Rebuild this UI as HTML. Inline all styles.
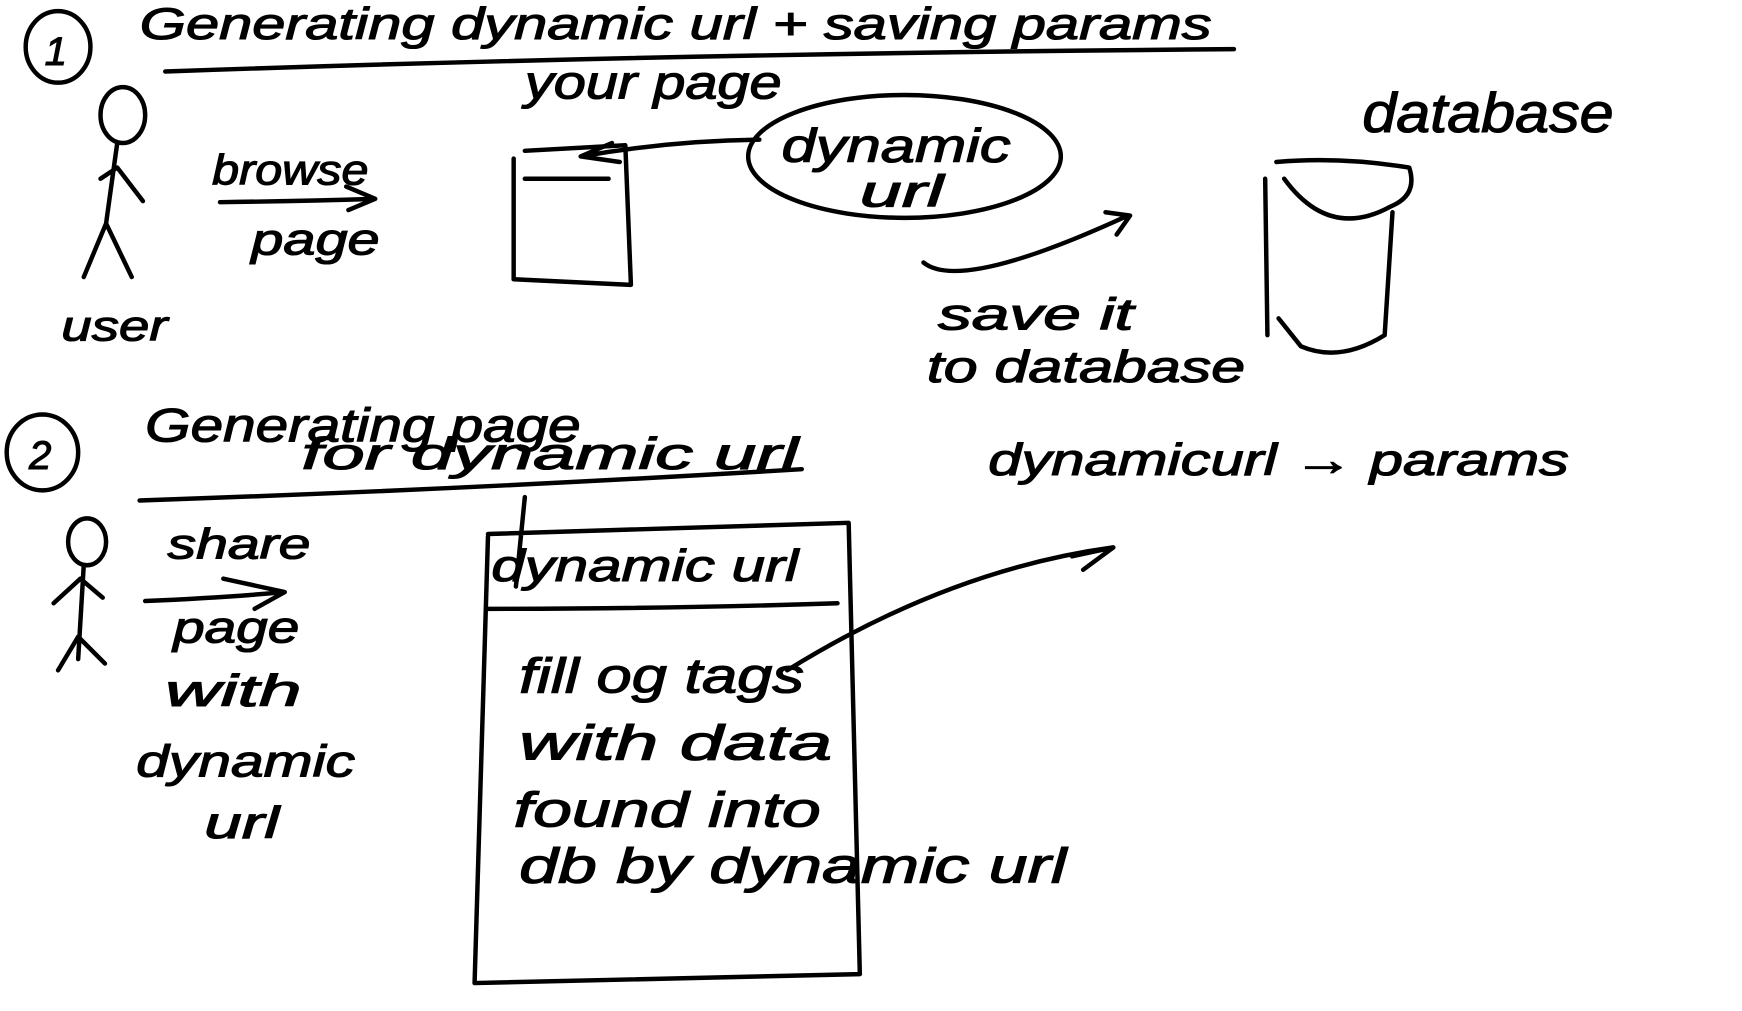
<!DOCTYPE html>
<html><head><meta charset="utf-8"><style>
html,body{margin:0;padding:0;background:#fff;}
svg{display:block;}
text{font-family:"Liberation Sans",sans-serif;font-style:italic;fill:#000;stroke:#000;stroke-width:1;}
</style></head><body>
<svg width="1742" height="1011" viewBox="0 0 1560 905" preserveAspectRatio="none" xmlns="http://www.w3.org/2000/svg">
<rect width="1560" height="905" fill="#fff"/>
<g fill="none" stroke="#000" stroke-width="4" stroke-linecap="round" stroke-linejoin="round">
<ellipse cx="52" cy="42" rx="29" ry="32"/>
<path d="M148 64 Q600 48 1105 44"/>
<ellipse cx="110" cy="103" rx="20" ry="25"/>
<path d="M105 128 L95 200 M90 160 L105 150 L128 180 M95 200 L75 248 M95 200 L118 248"/>
<path d="M197 181 Q270 180 335 178 M310 167 L336 178 L312 188"/>
<path d="M460 142 L460 250 L565 255 L560 130 L470 135 M470 160 L545 160"/>
<path d="M680 125 Q600 126 520 140 M548 128 L520 140 L555 145"/>
<ellipse cx="810" cy="140" rx="140" ry="55"/>
<path d="M827 235 Q860 262 1010 193 M990 190 L1012 193 L1000 210"/>
<path d="M1143 145 Q1200 140 1262 150 Q1270 175 1245 185 Q1190 215 1150 160 M1133 160 L1135 300 M1247 190 L1240 300 Q1200 325 1165 310 L1145 285"/>
<ellipse cx="38" cy="405" rx="32" ry="34"/>
<path d="M125 448 Q420 438 718 420"/>
<ellipse cx="78" cy="485" rx="17" ry="21"/>
<path d="M75 506 L70 590 M48 540 L72 518 L92 535 M70 570 L52 600 M70 570 L94 594"/>
<path d="M130 538 Q200 535 255 530 M200 518 L255 530 L228 545"/>
<path d="M437 480 L425 880 L770 872 L760 468 L437 478 M435 545 Q600 545 750 540 M470 445 L462 525"/>
<path d="M705 600 Q850 510 997 490 M960 498 L997 490 L970 510"/>
</g>
<text x="125" y="35" font-size="40" textLength="960" lengthAdjust="spacingAndGlyphs">Generating dynamic url + saving params</text>
<text x="40" y="58" font-size="36">1</text>
<text x="470" y="88" font-size="42" textLength="230" lengthAdjust="spacingAndGlyphs">your page</text>
<text x="190" y="165" font-size="38" textLength="140" lengthAdjust="spacingAndGlyphs">browse</text>
<text x="225" y="228" font-size="40" textLength="115" lengthAdjust="spacingAndGlyphs">page</text>
<text x="55" y="305" font-size="38" textLength="95" lengthAdjust="spacingAndGlyphs">user</text>
<text x="700" y="145" font-size="42" textLength="205" lengthAdjust="spacingAndGlyphs">dynamic</text>
<text x="770" y="185" font-size="40" textLength="75" lengthAdjust="spacingAndGlyphs">url</text>
<text x="1220" y="118" font-size="50" textLength="225" lengthAdjust="spacingAndGlyphs">database</text>
<text x="840" y="295" font-size="40" textLength="175" lengthAdjust="spacingAndGlyphs">save it</text>
<text x="830" y="342" font-size="40" textLength="285" lengthAdjust="spacingAndGlyphs">to database</text>
<text x="26" y="420" font-size="36">2</text>
<text x="130" y="395" font-size="42" textLength="390" lengthAdjust="spacingAndGlyphs">Generating page</text>
<text x="270" y="420" font-size="40" textLength="445" lengthAdjust="spacingAndGlyphs">for dynamic url</text>
<text x="885" y="425" font-size="40" textLength="520" lengthAdjust="spacingAndGlyphs">dynamicurl → params</text>
<text x="150" y="500" font-size="38" textLength="128" lengthAdjust="spacingAndGlyphs">share</text>
<text x="155" y="575" font-size="40" textLength="113" lengthAdjust="spacingAndGlyphs">page</text>
<text x="148" y="632" font-size="40" textLength="122" lengthAdjust="spacingAndGlyphs">with</text>
<text x="122" y="695" font-size="40" textLength="196" lengthAdjust="spacingAndGlyphs">dynamic</text>
<text x="183" y="750" font-size="40" textLength="67" lengthAdjust="spacingAndGlyphs">url</text>
<text x="440" y="520" font-size="40" textLength="275" lengthAdjust="spacingAndGlyphs">dynamic url</text>
<text x="465" y="620" font-size="44" textLength="255" lengthAdjust="spacingAndGlyphs">fill og tags</text>
<text x="465" y="680" font-size="44" textLength="280" lengthAdjust="spacingAndGlyphs">with data</text>
<text x="460" y="740" font-size="44" textLength="275" lengthAdjust="spacingAndGlyphs">found into</text>
<text x="465" y="790" font-size="44" textLength="490" lengthAdjust="spacingAndGlyphs">db by dynamic url</text>
</svg>
</body></html>
